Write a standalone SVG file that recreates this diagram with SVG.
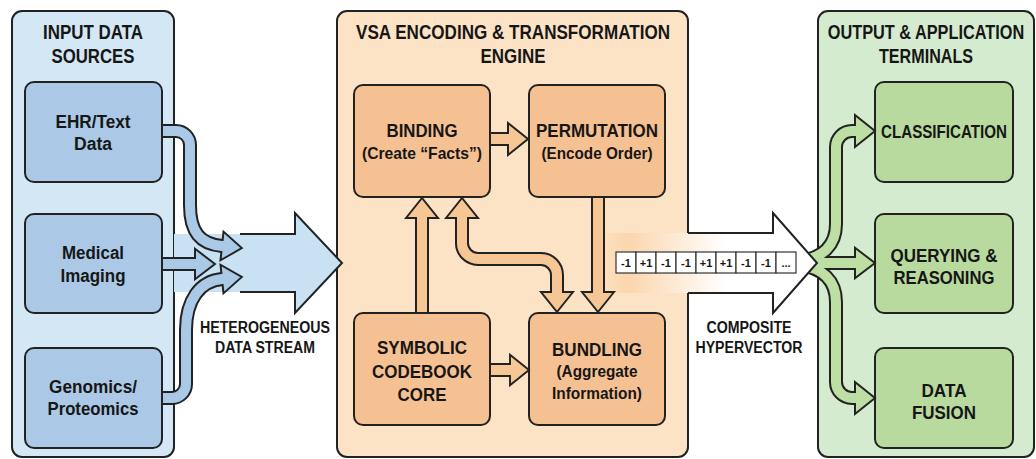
<svg xmlns="http://www.w3.org/2000/svg" width="1036" height="459" viewBox="0 0 1036 459">
  <style>
    text{font-family:"Liberation Sans",Arial,sans-serif;font-weight:bold;fill:#161616;text-anchor:middle}
    .t20{font-size:20px}
    .t18{font-size:18px}
    .t17{font-size:17px}
    .t16{font-size:16px}
    .cell text{font-size:11px}
    .panel{stroke:#222;stroke-width:2}
    .box{stroke:#222;stroke-width:2}
    .edge{fill:none;stroke:#222;stroke-width:14}
    .head{stroke:#222;stroke-width:2;stroke-linejoin:miter}
    .blue .fillstroke{fill:none;stroke:#a9c9e6;stroke-width:10}
    .blue .head{fill:#a9c9e6}
    .orange .fillstroke{fill:none;stroke:#f6c795;stroke-width:10}
    .orange .head{fill:#f6c795}
    .green .fillstroke{fill:none;stroke:#bddfa3;stroke-width:10}
    .green .head{fill:#bddfa3}
    .cell rect{fill:#fff;stroke:#333;stroke-width:1.2}
  </style>
  <defs>
    <linearGradient id="hvFade" x1="596" y1="0" x2="776" y2="0" gradientUnits="userSpaceOnUse">
      <stop offset="0" stop-color="#fde3c5"/>
      <stop offset="0.18" stop-color="#fbd6ae"/>
      <stop offset="0.72" stop-color="#ffffff"/>
      <stop offset="1" stop-color="#ffffff"/>
    </linearGradient>
    <polygon id="arrowHead" points="0,-16 20,0 0,16"/>
  </defs>

  <rect width="1036" height="459" fill="#ffffff"/>

  <!-- Panels -->
  <g id="panel-input">
    <rect class="panel" x="12" y="11" width="162" height="446" rx="10" fill="#d3e8f4"/>
    <text class="t20" x="93" y="39" textLength="100" lengthAdjust="spacingAndGlyphs">INPUT DATA</text>
    <text class="t20" x="93" y="63" textLength="83" lengthAdjust="spacingAndGlyphs">SOURCES</text>
  </g>
  <g id="panel-engine">
    <rect class="panel" x="337" y="11" width="351" height="446" rx="10" fill="#fde3c5"/>
    <text class="t20" x="513" y="39" textLength="314" lengthAdjust="spacingAndGlyphs">VSA ENCODING &amp; TRANSFORMATION</text>
    <text class="t20" x="513" y="63" textLength="65" lengthAdjust="spacingAndGlyphs">ENGINE</text>
  </g>
  <g id="panel-output">
    <rect class="panel" x="818" y="11" width="216" height="446" rx="10" fill="#d5ebcf"/>
    <text class="t20" transform="translate(926,39) scale(0.815,1)" x="0" y="0">OUTPUT &amp; APPLICATION</text>
    <text class="t20" x="926" y="63" textLength="94" lengthAdjust="spacingAndGlyphs">TERMINALS</text>
  </g>

  <!-- Input sources -->
  <g id="node-ehr">
    <rect class="box" x="25" y="82" width="137" height="100" rx="9" fill="#abc9e6"/>
    <text class="t18" x="93" y="128" textLength="75" lengthAdjust="spacingAndGlyphs">EHR/Text</text>
    <text class="t18" x="93" y="150" textLength="38" lengthAdjust="spacingAndGlyphs">Data</text>
  </g>
  <g id="node-imaging">
    <rect class="box" x="25" y="214" width="137" height="99" rx="9" fill="#abc9e6"/>
    <text class="t18" x="93" y="259" textLength="62" lengthAdjust="spacingAndGlyphs">Medical</text>
    <text class="t18" x="93" y="282" textLength="65" lengthAdjust="spacingAndGlyphs">Imaging</text>
  </g>
  <g id="node-genomics">
    <rect class="box" x="25" y="348" width="137" height="100" rx="9" fill="#abc9e6"/>
    <text class="t18" x="93" y="393" textLength="88" lengthAdjust="spacingAndGlyphs">Genomics/</text>
    <text class="t18" x="93" y="415" textLength="91" lengthAdjust="spacingAndGlyphs">Proteomics</text>
  </g>

  <!-- Engine nodes -->
  <g id="node-binding">
    <rect class="box" x="354" y="85" width="136" height="112" rx="9" fill="#f6c192"/>
    <text class="t18" x="422" y="137" textLength="71" lengthAdjust="spacingAndGlyphs">BINDING</text>
    <text class="t17" x="422" y="159" textLength="120" lengthAdjust="spacingAndGlyphs">(Create “Facts”)</text>
  </g>
  <g id="node-permutation">
    <rect class="box" x="529" y="85" width="136" height="112" rx="9" fill="#f6c192"/>
    <text class="t18" x="597" y="137" textLength="122" lengthAdjust="spacingAndGlyphs">PERMUTATION</text>
    <text class="t17" x="597" y="159" textLength="111" lengthAdjust="spacingAndGlyphs">(Encode Order)</text>
  </g>
  <g id="node-codebook">
    <rect class="box" x="354" y="313" width="136" height="112" rx="9" fill="#f6c192"/>
    <text class="t18" x="422" y="354" textLength="90" lengthAdjust="spacingAndGlyphs">SYMBOLIC</text>
    <text class="t18" x="422" y="378" textLength="100" lengthAdjust="spacingAndGlyphs">CODEBOOK</text>
    <text class="t18" x="422" y="401" textLength="49" lengthAdjust="spacingAndGlyphs">CORE</text>
  </g>
  <g id="node-bundling">
    <rect class="box" x="529" y="313" width="136" height="112" rx="9" fill="#f6c192"/>
    <text class="t18" x="597" y="356" textLength="90" lengthAdjust="spacingAndGlyphs">BUNDLING</text>
    <text class="t17" x="597" y="377" textLength="81" lengthAdjust="spacingAndGlyphs">(Aggregate</text>
    <text class="t17" x="597" y="399" textLength="90" lengthAdjust="spacingAndGlyphs">Information)</text>
  </g>

  <!-- Output nodes -->
  <g id="node-classification">
    <rect class="box" x="875" y="82" width="138" height="100" rx="9" fill="#b8da9e"/>
    <text class="t18" x="944" y="138" textLength="126" lengthAdjust="spacingAndGlyphs">CLASSIFICATION</text>
  </g>
  <g id="node-querying">
    <rect class="box" x="875" y="214" width="138" height="99" rx="9" fill="#b8da9e"/>
    <text class="t18" x="944" y="262" textLength="107" lengthAdjust="spacingAndGlyphs">QUERYING &amp;</text>
    <text class="t18" x="944" y="284" textLength="101" lengthAdjust="spacingAndGlyphs">REASONING</text>
  </g>
  <g id="node-fusion">
    <rect class="box" x="875" y="348" width="138" height="100" rx="9" fill="#b8da9e"/>
    <text class="t18" x="944" y="397" textLength="45" lengthAdjust="spacingAndGlyphs">DATA</text>
    <text class="t18" x="944" y="419" textLength="64" lengthAdjust="spacingAndGlyphs">FUSION</text>
  </g>

  <!-- Connectors -->
  <g id="connectors">
    <!-- fade band of the composite hypervector shaft, under the engine flows -->
    <rect x="596" y="233" width="180" height="60" fill="url(#hvFade)"/>

    <!-- heterogeneous data stream -->
    <g id="data-stream">
      <polygon points="174,234 295,234 295,213 342,263 295,313 295,292 174,292" fill="#c8e2f3"/>
      <path d="M240,234 H295 V213 L342,263 L295,313 V292 H240" fill="none" stroke="#222" stroke-width="2" stroke-linejoin="miter"/>
      <text class="t16" x="265" y="333" textLength="130" lengthAdjust="spacingAndGlyphs">HETEROGENEOUS</text>
      <text class="t16" x="265" y="353" textLength="100" lengthAdjust="spacingAndGlyphs">DATA STREAM</text>
    </g>

    <!-- source feeds -->
    <g class="blue">
      <path class="edge" d="M163,131 H176 A14,14 0 0 1 190,145 V205 C190,232 200,244 222,246 l3,0.3"/>
      <path class="edge" d="M163,264 H197"/>
      <path class="edge" d="M163,398 H172 A14,14 0 0 0 186,384 V330 C186,300 200,281 222,279 l3,-0.3"/>
      <use href="#arrowHead" class="head" transform="translate(222,246) rotate(6) scale(1,0.9)"/>
      <use href="#arrowHead" class="head" transform="translate(195,264) scale(1,0.95)"/>
      <use href="#arrowHead" class="head" transform="translate(222,279) rotate(-6) scale(1,0.9)"/>
      <path class="fillstroke" d="M163,131 H176 A14,14 0 0 1 190,145 V205 C190,232 200,244 222,246 l3,0.3"/>
      <path class="fillstroke" d="M163,264 H198"/>
      <path class="fillstroke" d="M163,398 H172 A14,14 0 0 0 186,384 V330 C186,300 200,281 222,279 l3,-0.3"/>
    </g>

    <!-- engine flows -->
    <g class="orange">
      <path class="edge" d="M491,139 H510"/>
      <path class="edge" d="M491,370 H512"/>
      <path class="edge" d="M422,312 V216"/>
      <path class="edge" d="M462,216 V243 A16,16 0 0 0 478,259 H541 A16,16 0 0 1 557,275 V294"/>
      <path class="edge" d="M598,198 V294"/>
      <use href="#arrowHead" class="head" transform="translate(508,139)"/>
      <use href="#arrowHead" class="head" transform="translate(510,370) scale(0.95)"/>
      <use href="#arrowHead" class="head" transform="translate(422,218) rotate(-90)"/>
      <use href="#arrowHead" class="head" transform="translate(462,218) rotate(-90)"/>
      <use href="#arrowHead" class="head" transform="translate(557,292) rotate(90)"/>
      <use href="#arrowHead" class="head" transform="translate(598,292) rotate(90)"/>
      <path class="fillstroke" d="M491,139 H511"/>
      <path class="fillstroke" d="M491,370 H513"/>
      <path class="fillstroke" d="M422,312 V215"/>
      <path class="fillstroke" d="M462,215 V243 A16,16 0 0 0 478,259 H541 A16,16 0 0 1 557,275 V295"/>
      <path class="fillstroke" d="M598,198 V295"/>
    </g>

    <!-- output branches -->
    <g class="green">
      <path class="edge" d="M800,261 C822,258 836,246 836,224 V147 A16,16 0 0 1 852,131 H857"/>
      <path class="edge" d="M800,263 H857"/>
      <path class="edge" d="M800,265 C822,268 836,280 836,302 V382 A16,16 0 0 0 852,398 H857"/>
      <use href="#arrowHead" class="head" transform="translate(855,131)"/>
      <use href="#arrowHead" class="head" transform="translate(855,263) scale(1,0.95)"/>
      <use href="#arrowHead" class="head" transform="translate(855,398)"/>
      <path class="fillstroke" d="M800,261 C822,258 836,246 836,224 V147 A16,16 0 0 1 852,131 H858"/>
      <path class="fillstroke" d="M800,263 H858"/>
      <path class="fillstroke" d="M800,265 C822,268 836,280 836,302 V382 A16,16 0 0 0 852,398 H858"/>
    </g>

    <!-- composite hypervector -->
    <g id="composite-vector">
      <rect x="688" y="233" width="88" height="60" fill="url(#hvFade)"/>
      <polygon points="773,213 817,263 773,313" fill="#ffffff"/>
      <path d="M688,233 H773 V213 L817,263 L773,313 V293 H688" fill="none" stroke="#222" stroke-width="2" stroke-linejoin="miter"/>
      <g class="cell">
        <rect x="616" y="252" width="20" height="21"/><text x="626" y="267">-1</text>
        <rect x="636" y="252" width="20" height="21"/><text x="646" y="267">+1</text>
        <rect x="656" y="252" width="20" height="21"/><text x="666" y="267">-1</text>
        <rect x="676" y="252" width="20" height="21"/><text x="686" y="267">-1</text>
        <rect x="696" y="252" width="20" height="21"/><text x="706" y="267">+1</text>
        <rect x="716" y="252" width="20" height="21"/><text x="726" y="267">+1</text>
        <rect x="736" y="252" width="20" height="21"/><text x="746" y="267">-1</text>
        <rect x="756" y="252" width="20" height="21"/><text x="766" y="267">-1</text>
        <rect x="776" y="252" width="20" height="21"/><text x="786" y="267">...</text>
      </g>
      <text class="t16" x="749" y="333" textLength="85" lengthAdjust="spacingAndGlyphs">COMPOSITE</text>
      <text class="t16" x="749" y="353" textLength="107" lengthAdjust="spacingAndGlyphs">HYPERVECTOR</text>
    </g>
  </g>
</svg>
